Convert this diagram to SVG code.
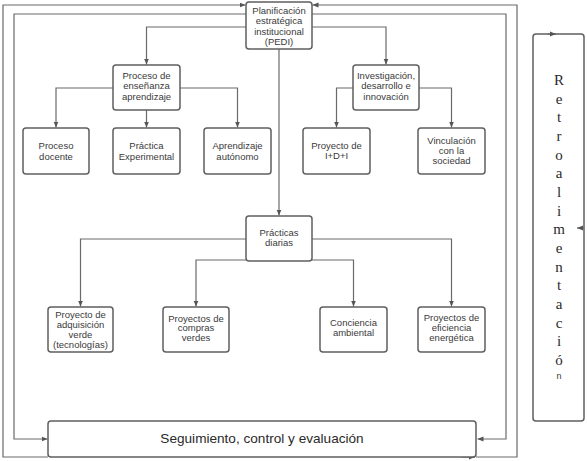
<svg xmlns="http://www.w3.org/2000/svg" width="587" height="461" viewBox="0 0 587 461">
<defs>
<style>
.box{fill:#fff;stroke:#5f5f5f;stroke-width:1.5}
.ln{fill:none;stroke:#6a6a6a;stroke-width:1.2}
.t{font-family:"Liberation Sans",Arial,sans-serif;font-size:9.5px;fill:#3a3a3a;text-anchor:middle}
.big{font-family:"Liberation Sans",Arial,sans-serif;font-size:13.6px;fill:#2a2a2a;text-anchor:middle}
.r{font-family:"Liberation Serif","Times New Roman",serif;font-size:15px;fill:#2a2a2a;text-anchor:middle}
</style>
<marker id="ah" markerUnits="userSpaceOnUse" markerWidth="6" markerHeight="6" refX="6" refY="3" orient="auto">
<path d="M0,0.5 L6,3 L0,5.5 z" fill="#555"/>
</marker>
</defs>
<rect width="587" height="461" fill="#fff"/>
<g id="connectors">
<path class="ln" d="M246 27 H146.5 V64.5" marker-end="url(#ah)"/>
<path class="ln" d="M312 27 H386 V64.5" marker-end="url(#ah)"/>
<path class="ln" d="M279 49 V215.5" marker-end="url(#ah)"/>
<path class="ln" d="M113 88 H56 V127.5" marker-end="url(#ah)"/>
<path class="ln" d="M146.5 110 V127.5" marker-end="url(#ah)"/>
<path class="ln" d="M180 88 H237.5 V127.5" marker-end="url(#ah)"/>
<path class="ln" d="M353 88 H336.5 V127.5" marker-end="url(#ah)"/>
<path class="ln" d="M419 88 H451.5 V127.5" marker-end="url(#ah)"/>
<path class="ln" d="M246 239 H80.5 V306.5" marker-end="url(#ah)"/>
<path class="ln" d="M246 260 H196 V306.5" marker-end="url(#ah)"/>
<path class="ln" d="M312 239 H451.5 V306.5" marker-end="url(#ah)"/>
<path class="ln" d="M312 260 H353.5 V306.5" marker-end="url(#ah)"/>
<path class="ln" d="M246 14 H14 V439 H47.5" marker-end="url(#ah)"/>
<path class="ln" d="M312 14 H506 V439 H477.5" marker-end="url(#ah)"/>
<path class="ln" d="M48 457 H3 V5 H245.5" marker-end="url(#ah)"/>
<path class="ln" d="M476 457 H517 V5 H312.5" marker-end="url(#ah)"/>
<path class="ln" d="M462 457 H475" marker-end="url(#ah)"/>
</g>
<g id="n-pedi"><rect class="box" x="246" y="2" width="66" height="47" rx="3"/>
<text class="t" x="279" y="13.5">Planificación</text><text class="t" x="279" y="24">estratégica</text><text class="t" x="279" y="34.5">institucional</text><text class="t" x="279" y="45">(PEDI)</text></g>
<g id="n-proceso"><rect class="box" x="113" y="65" width="67" height="45" rx="3"/>
<text class="t" x="146.5" y="78.5">Proceso de</text><text class="t" x="146.5" y="89">enseñanza</text><text class="t" x="146.5" y="99.5">aprendizaje</text></g>
<g id="n-invest"><rect class="box" x="353" y="65" width="66" height="45" rx="3"/>
<text class="t" x="386" y="78.5">Investigación,</text><text class="t" x="386" y="89">desarrollo e</text><text class="t" x="386" y="99.5">innovación</text></g>
<g id="n-docente"><rect class="box" x="23" y="128" width="66" height="46" rx="3"/>
<text class="t" x="56" y="148.5">Proceso</text><text class="t" x="56" y="159.5">docente</text></g>
<g id="n-practica"><rect class="box" x="113" y="128" width="67" height="46" rx="3"/>
<text class="t" x="146.5" y="148.5">Práctica</text><text class="t" x="146.5" y="159.5">Experimental</text></g>
<g id="n-aprend"><rect class="box" x="204" y="128" width="67" height="46" rx="3"/>
<text class="t" x="237.5" y="148.5">Aprendizaje</text><text class="t" x="237.5" y="159.5">autónomo</text></g>
<g id="n-idi"><rect class="box" x="303" y="128" width="67" height="46" rx="3"/>
<text class="t" x="336.5" y="148.5">Proyecto de</text><text class="t" x="336.5" y="158.5">I+D+I</text></g>
<g id="n-vinc"><rect class="box" x="418" y="128" width="67" height="46" rx="3"/>
<text class="t" x="451.5" y="143.5">Vinculación</text><text class="t" x="451.5" y="153.5">con la</text><text class="t" x="451.5" y="163.5">sociedad</text></g>
<g id="n-diarias"><rect class="box" x="246" y="216" width="66" height="45" rx="3"/>
<text class="t" x="279" y="235.5">Prácticas</text><text class="t" x="279" y="245.5">diarias</text></g>
<g id="n-adq"><rect class="box" x="48" y="307" width="65" height="45" rx="3"/>
<text class="t" x="80.5" y="317.5">Proyecto de</text><text class="t" x="80.5" y="327.8">adquisición</text><text class="t" x="80.5" y="338">verde</text><text class="t" x="80.5" y="348.3">(tecnologías)</text></g>
<g id="n-compras"><rect class="box" x="163" y="307" width="66" height="45" rx="3"/>
<text class="t" x="196" y="321.5">Proyectos de</text><text class="t" x="196" y="331">compras</text><text class="t" x="196" y="341">verdes</text></g>
<g id="n-conciencia"><rect class="box" x="320" y="307" width="67" height="45" rx="3"/>
<text class="t" x="353.5" y="326">Conciencia</text><text class="t" x="353.5" y="336">ambiental</text></g>
<g id="n-eficiencia"><rect class="box" x="418" y="307" width="67" height="45" rx="3"/>
<text class="t" x="451.5" y="321">Proyectos de</text><text class="t" x="451.5" y="331">eficiencia</text><text class="t" x="451.5" y="341">energética</text></g>
<g id="n-seguimiento"><rect class="box" x="48" y="421" width="428" height="36" rx="3"/>
<text class="big" x="262" y="443">Seguimiento, control y evaluación</text></g>
<g id="n-retro"><rect class="box" x="533" y="34" width="51" height="387" rx="3"/>
<path class="ln" d="M548 34 H556" marker-end="url(#ah)"/>
<path class="ln" d="M584 228 H577" marker-end="url(#ah)"/>
<text class="r" x="559" y="85">R</text><text class="r" x="559" y="103.7">e</text><text class="r" x="559" y="122.3">t</text><text class="r" x="559" y="141">r</text><text class="r" x="559" y="159.7">o</text><text class="r" x="559" y="178.3">a</text><text class="r" x="559" y="197">l</text><text class="r" x="559" y="215.7">i</text><text class="r" x="559" y="234.3">m</text><text class="r" x="559" y="253">e</text><text class="r" x="559" y="271.7">n</text><text class="r" x="559" y="290.3">t</text><text class="r" x="559" y="309">a</text><text class="r" x="559" y="327.7">c</text><text class="r" x="559" y="346.3">i</text><text class="r" x="559" y="365">ó</text>
<text class="t" x="559" y="379" style="font-size:9px">n</text></g>
</svg>
